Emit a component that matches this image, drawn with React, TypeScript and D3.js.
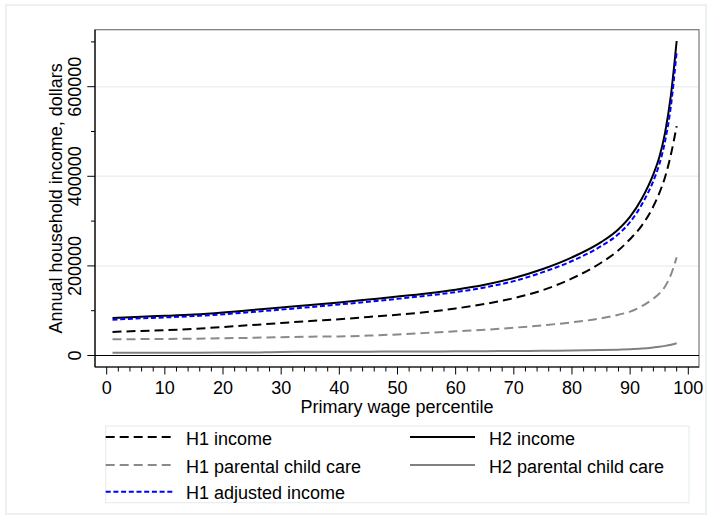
import * as d3 from "d3";
import * as React from "react";

const percentiles = [1, 5, 10, 15, 20, 25, 30, 35, 40, 45, 50, 55, 60, 65, 70, 75, 80, 85, 88, 90, 92, 94, 95, 96, 97, 98];

const h1Income = [52500, 54500, 56500, 59500, 63500, 68000, 72500, 77000, 81000, 86000, 91000, 97000, 105000, 115000, 128000, 146000, 172000, 207000, 235000, 260000, 290000, 333000, 362000, 398000, 448000, 512000];
const h2Income = [83500, 86000, 88500, 91500, 96000, 101500, 107000, 112500, 118500, 125000, 131500, 138500, 147000, 158000, 173000, 193000, 219000, 253000, 282000, 310000, 350000, 405000, 442000, 497000, 580000, 702000];
const h1ChildCare = [36000, 36500, 37000, 37500, 38500, 39500, 41000, 42000, 42500, 44500, 47000, 50500, 54000, 57500, 62000, 67500, 74000, 83000, 91000, 98000, 110000, 127000, 138000, 154000, 180000, 219000];
const h2ChildCare = [6000, 6000, 6200, 6300, 6500, 6800, 8000, 8200, 8400, 8600, 8800, 9000, 9300, 9600, 10000, 10500, 11000, 12000, 13000, 14000, 15500, 18000, 19500, 21500, 24000, 27500];
const h1Adjusted = [80000, 82500, 85000, 88000, 92000, 97000, 102500, 108000, 114000, 120000, 126500, 133500, 141500, 152000, 166000, 186000, 211000, 244000, 271000, 298000, 337000, 390000, 426000, 478000, 556000, 678000];

const yTickLabels = [0, 200000, 400000, 600000];
const yMinorTicks = [100000, 300000, 500000, 700000];
const xTickLabels = [0, 10, 20, 30, 40, 50, 60, 70, 80, 90, 100];

interface Series {
    label: string;
    values: number[];
    color: string;
    dash: string;
    width: number;
}

const series: Series[] = [
    { label: "H1 income", values: h1Income, color: "#000000", dash: "9,5", width: 2 },
    { label: "H2 income", values: h2Income, color: "#000000", dash: "", width: 2 },
    { label: "H1 parental child care", values: h1ChildCare, color: "#8a8a8a", dash: "9,5", width: 2 },
    { label: "H2 parental child care", values: h2ChildCare, color: "#808080", dash: "", width: 2 },
    { label: "H1 adjusted income", values: h1Adjusted, color: "#0000ff", dash: "5,2.7", width: 2 },
];

const FONT = "'Liberation Sans', Arial, sans-serif";
const FS = 18;

export default function App(): JSX.Element {
    const left = 95, right = 699, top = 29.7, bottom = 367;

    const x = d3.scaleLinear().domain([-2.01, 101.84]).range([left, right]);
    const y = d3.scaleLinear().domain([-25670, 727220]).range([bottom, top]);

    const xMinor = d3.range(0, 101, 2).filter(v => v % 10 !== 0);

    const lineGen = (vals: number[]) =>
        d3.line<number>()
            .x((_, i) => x(percentiles[i]))
            .y(d => y(d))
            .curve(d3.curveMonotoneX)(vals) || "";

    // legend layout: two columns, three rows
    const legendRows = [438, 466, 492.7];
    const legendPos = [
        { col: 0, row: 0 }, { col: 1, row: 0 },
        { col: 0, row: 1 }, { col: 1, row: 1 },
        { col: 0, row: 2 },
    ];
    const colX = [{ l0: 105.7, l1: 175, t: 186 }, { l0: 410, l1: 475, t: 489 }];

    return (
        <svg width={712} height={519} style={{ position: "absolute", left: 0, top: 0, background: "#fff" }}
            fontFamily={FONT}>
            <rect x={6} y={5} width={700} height={509} fill="#fff" stroke="#e6eef1" strokeWidth={1.5} />

            {/* grid */}
            {yTickLabels.filter(v => v !== 0).map(v => (
                <line key={"g" + v} x1={left} x2={right} y1={y(v)} y2={y(v)} stroke="#eaf1f4" strokeWidth={1.5} />
            ))}

            {/* plot frame */}
            <rect x={left} y={top} width={right - left} height={bottom - top} fill="none" stroke="#777" strokeWidth={1.2} />
            <line x1={left} x2={left} y1={top} y2={bottom} stroke="#000" strokeWidth={1.2} />
            <line x1={left} x2={right} y1={bottom} y2={bottom} stroke="#000" strokeWidth={1.2} />

            {/* zero line */}
            <line x1={left} x2={right} y1={y(0)} y2={y(0)} stroke="#000" strokeWidth={1.1} />

            {/* series */}
            {series.map(s => (
                <path key={s.label} d={lineGen(s.values)} fill="none" stroke={s.color}
                    strokeWidth={s.width} strokeDasharray={s.dash} />
            ))}

            {/* y axis */}
            {yTickLabels.map(v => (
                <g key={"y" + v}>
                    <line x1={87.3} x2={left} y1={y(v)} y2={y(v)} stroke="#000" strokeWidth={1} />
                    <text transform={`translate(80.7,${y(v)}) rotate(-90)`} textAnchor="middle" fontSize={FS}>{v}</text>
                </g>
            ))}
            {yMinorTicks.map(v => (
                <line key={"ym" + v} x1={91} x2={left} y1={y(v)} y2={y(v)} stroke="#000" strokeWidth={1} />
            ))}
            <text transform={`translate(62,${(top + bottom) / 2}) rotate(-90)`} textAnchor="middle" fontSize={FS}>
                Annual household income, dollars
            </text>

            {/* x axis */}
            {xTickLabels.map(v => (
                <g key={"x" + v}>
                    <line x1={x(v)} x2={x(v)} y1={bottom} y2={374.5} stroke="#000" strokeWidth={1} />
                    <text x={x(v)} y={393.5} textAnchor="middle" fontSize={FS}>{v}</text>
                </g>
            ))}
            {xMinor.map(v => (
                <line key={"xm" + v} x1={x(v)} x2={x(v)} y1={bottom} y2={371.5} stroke="#000" strokeWidth={1} />
            ))}
            <text x={(left + right) / 2} y={413} textAnchor="middle" fontSize={FS}>Primary wage percentile</text>

            {/* legend */}
            <rect x={105.7} y={426} width={583.3} height={76.7} fill="#fff" stroke="#e6eef1" strokeWidth={1.2} />
            {series.map((s, i) => {
                const p = legendPos[i];
                const c = colX[p.col];
                const ly = legendRows[p.row];
                return (
                    <g key={"lg" + s.label}>
                        <line x1={c.l0} x2={c.l1} y1={ly - 1} y2={ly - 1} stroke={s.color} strokeWidth={s.width}
                            strokeDasharray={s.dash} />
                        <text x={c.t} y={ly + 6.5} fontSize={FS}>{s.label}</text>
                    </g>
                );
            })}
        </svg>
    );
}
